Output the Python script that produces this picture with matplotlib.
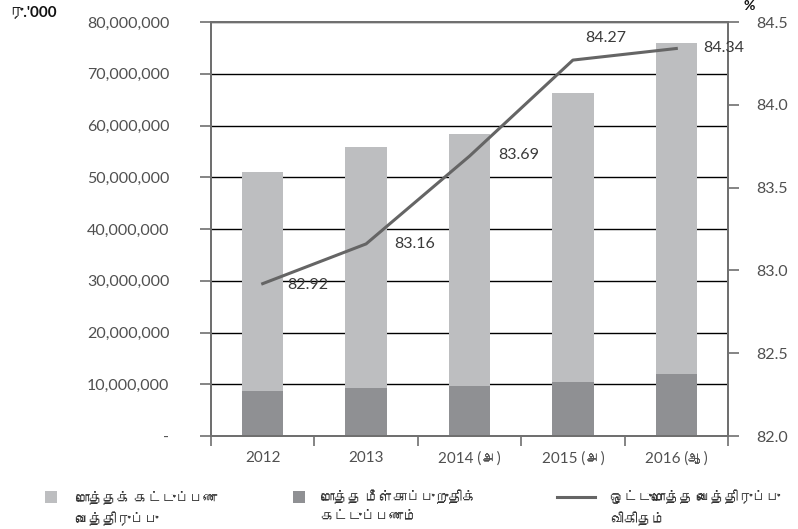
import matplotlib
matplotlib.use("Agg")
import matplotlib.pyplot as plt
from matplotlib import font_manager
from matplotlib.ft2font import FT2Font
from matplotlib.patches import Rectangle
from matplotlib.lines import Line2D
from matplotlib.ticker import FuncFormatter, FixedLocator

# ---- data ----
years = ["2012", "2013", "2014 (அ)", "2015 (அ)", "2016 (ஆ)"]
total_premium = [51_000_000, 55_800_000, 58_400_000, 66_300_000, 75_900_000]
reinsurance_premium = [8_700_000, 9_300_000, 9_600_000, 10_400_000, 12_000_000]
retention_ratio = [82.92, 83.16, 83.69, 84.27, 84.34]
legend_labels = ["மொத்தக் கட்டுப்பண\nவைத்திருப்பு",
                 "மொத்த மீள்காப்புறுதிக்\nகட்டுப்பணம்",
                 "ஒட்டுமொத்த வைத்திருப்பு\nவிகிதம்"]

# ---- find a font with Tamil glyphs ----
tamil_family = None
for f in font_manager.fontManager.ttflist:
    try:
        ft = FT2Font(f.fname)
        cmap = ft.get_charmap()
        if ord("ம") in cmap and ord("த") in cmap:
            tamil_family = f.name
            break
    except Exception:
        pass

families = ["Lato", "DejaVu Sans"]
if tamil_family:
    families = ["Lato", tamil_family, "DejaVu Sans"]
plt.rcParams["font.family"] = families

GRAY_TXT = "#505050"
SPINE = "#707070"
LIGHT = "#bdbec0"
DARK = "#8f9093"
LINEC = "#656565"

fig = plt.figure(figsize=(7.98, 5.29), dpi=100)
ax = fig.add_axes([211/798, 1-436/529, (728-211)/798, (436-22)/529])
ax2 = ax.twinx()

x = list(range(len(years)))
ax.bar(x, total_premium, width=0.4, color=LIGHT, zorder=2)
ax.bar(x, reinsurance_premium, width=0.4, color=DARK, zorder=3)

ax.set_ylim(0, 80_000_000)
ax.set_xlim(-0.5, len(years) - 0.5)
ax.set_yticks(range(0, 80_000_001, 10_000_000))
ax.yaxis.set_major_formatter(FuncFormatter(lambda v, p: "-" if v == 0 else f"{int(v):,}"))
ax.yaxis.grid(True, color="black", linewidth=1.0, zorder=1)
ax.set_axisbelow(True)

ax.set_xticks(x)
ax.set_xticklabels(years)
ax.xaxis.set_minor_locator(FixedLocator([i + 0.5 for i in range(-1, len(years))]))
ax.tick_params(axis="x", which="major", length=0, pad=11, labelsize=11, labelcolor=GRAY_TXT)
ax.tick_params(axis="x", which="minor", length=7, width=1.2, color=SPINE, direction="out")
ax.tick_params(axis="y", length=8, width=1.2, color=SPINE, pad=22, labelsize=11.5, labelcolor=GRAY_TXT)

ax2.plot(x, retention_ratio, color=LINEC, linewidth=2.2, zorder=5)
ax2.set_ylim(82.0, 84.5)
ax2.set_yticks([82.0, 82.5, 83.0, 83.5, 84.0, 84.5])
ax2.yaxis.set_major_formatter(FuncFormatter(lambda v, p: f"{v:.1f}"))
ax2.tick_params(axis="y", length=8, width=1.2, color=SPINE, pad=12, labelsize=11.5, labelcolor=GRAY_TXT)

for a in (ax, ax2):
    for s in a.spines.values():
        s.set_color(SPINE)
        s.set_linewidth(1.4)

offsets = [(18, -1), (20, 0), (21, 1), (9, 16), (19.5, 0)]
for xi, v, off in zip(x, retention_ratio, offsets):
    ax2.annotate(f"{v:.2f}", (xi, v), xytext=off, textcoords="offset points",
                 ha="left", va="center", fontsize=11.5, color="#3a3a3a", zorder=6)

fig.text(8/798, 1-12/529, "ரு.'000", fontsize=11, fontweight="bold", color="#111111",
         ha="left", va="center")
fig.text(744/798, 1-6/529, "%", fontsize=10, fontweight="bold", color="#111111",
         ha="left", va="center")

# legend
lx = [45, 293, 557]
tx = [75, 320, 610]
ly = 1 - 497/529
fig.patches.append(Rectangle((lx[0]/798, ly - 6/529), 12/798, 12/529, transform=fig.transFigure,
                             facecolor=LIGHT, edgecolor="none"))
fig.patches.append(Rectangle((lx[1]/798, ly - 6/529), 12/798, 12/529, transform=fig.transFigure,
                             facecolor=DARK, edgecolor="none"))
fig.lines.append(Line2D([lx[2]/798, 595/798], [ly, ly], transform=fig.transFigure,
                        color=LINEC, linewidth=2.2))
for t, lab in zip(tx, legend_labels):
    fig.text(t/798, ly + 7/529, lab, fontsize=10, color="#333333", ha="left", va="top",
             linespacing=1.6)

fig.savefig("out.png", dpi=100)
